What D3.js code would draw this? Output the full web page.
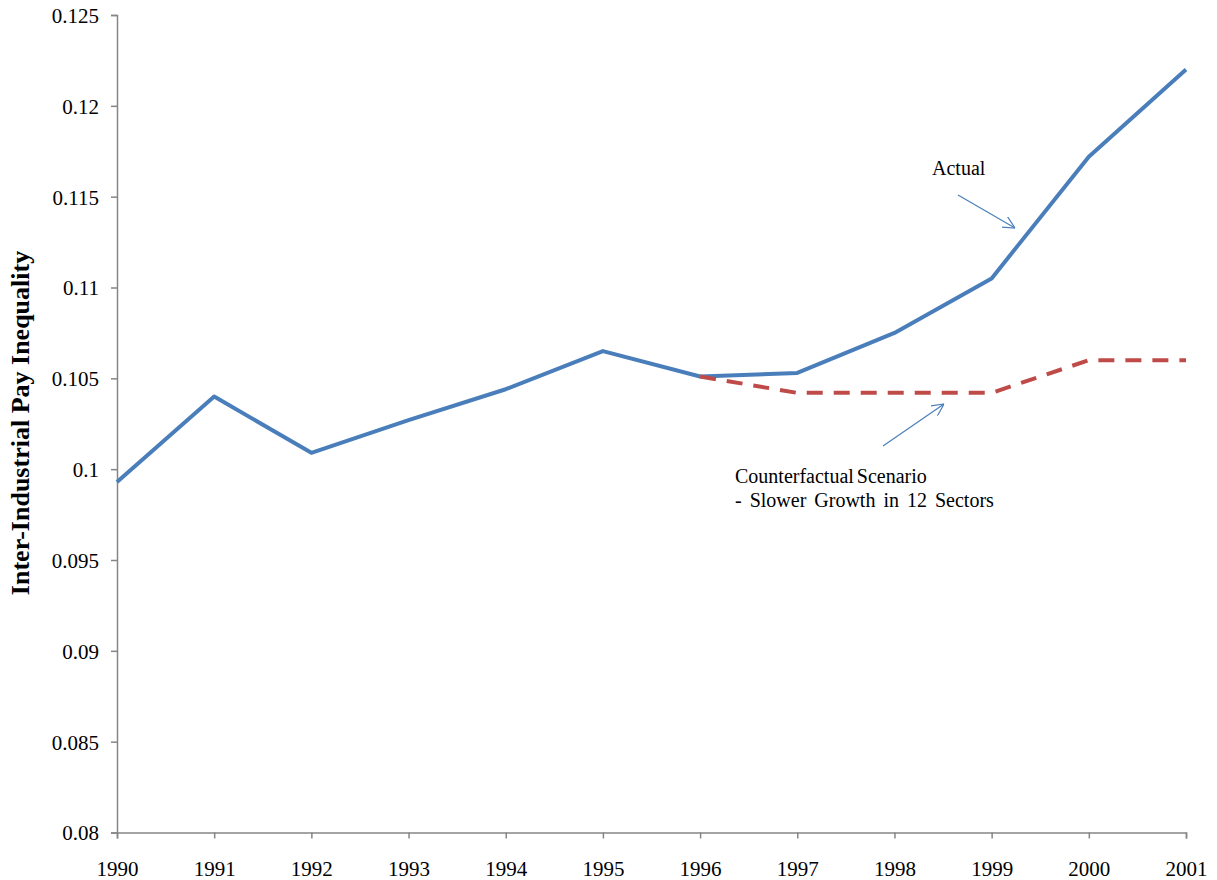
<!DOCTYPE html>
<html>
<head>
<meta charset="utf-8">
<script src="https://d3js.org/d3.v7.min.js"></script>
<style>
  body { margin: 0; background: #fff; }
</style>
</head>
<body>
<div id="chart"></div>
<script>
var years = [1990, 1991, 1992, 1993, 1994, 1995, 1996, 1997, 1998, 1999, 2000, 2001];
var actual = [0.0993, 0.1040, 0.1009, 0.1027, 0.1044, 0.1065, 0.1051, 0.1053, 0.1075, 0.1105, 0.1172, 0.1220];
var cfYears = [1996, 1997, 1998, 1999, 2000, 2001];
var counterfactual = [0.1051, 0.1042, 0.1042, 0.1042, 0.1060, 0.1060];
var yTicks = [0.08, 0.085, 0.09, 0.095, 0.1, 0.105, 0.11, 0.115, 0.12, 0.125];

var width = 1217,
  height = 880,
  serif = '"Liberation Serif", "Times New Roman", Times, serif';

var svg = d3.select('#chart')
  .append('svg')
  .attr('width', width)
  .attr('height', height)
  .style('font-family', serif);

var x = d3.scaleLinear()
  .domain([1990, 2001])
  .range([117, 1186]);

var y = d3.scaleLinear()
  .domain([0.08, 0.125])
  .range([832.5, 15]);

var axisColor = '#868686';

// y axis
var yAxis = svg.append('g')
  .attr('transform', 'translate(' + x(1990) + ',0)')
  .call(d3.axisLeft(y).tickValues(yTicks).tickSize(6).tickPadding(12)
    .tickFormat(function(d) { return String(+d.toFixed(3)); }));
yAxis.attr('font-family', null).attr('font-size', null);
yAxis.selectAll('path, line').attr('stroke', axisColor).attr('stroke-width', 1.5);
yAxis.selectAll('text')
  .style('font-family', serif)
  .style('font-size', '21px')
  .attr('fill', '#000')
  .attr('dy', '0.35em');

// x axis
var xAxis = svg.append('g')
  .attr('transform', 'translate(0,' + y(0.08) + ')')
  .call(d3.axisBottom(x).tickValues(years).tickSize(6).tickPadding(30)
    .tickFormat(d3.format('d')));
xAxis.attr('font-family', null).attr('font-size', null);
xAxis.selectAll('path, line').attr('stroke', axisColor).attr('stroke-width', 1.5);
xAxis.selectAll('text')
  .style('font-family', serif)
  .style('font-size', '21px')
  .attr('fill', '#000')
  .attr('dy', '0.35em');

// y axis title
svg.append('text')
  .attr('transform', 'translate(29,423) rotate(-90)')
  .attr('text-anchor', 'middle')
  .style('font-family', serif)
  .style('font-size', '26px')
  .style('font-weight', 'bold')
  .text('Inter-Industrial Pay Inequality');

var line = d3.line()
  .x(function(d) { return x(d[0]); })
  .y(function(d) { return y(d[1]); });

svg.append('path')
  .datum(d3.zip(years, actual))
  .attr('d', line)
  .attr('fill', 'none')
  .attr('stroke', '#4A7EBB')
  .attr('stroke-width', 4)
  .attr('stroke-linejoin', 'round');

svg.append('path')
  .datum(d3.zip(cfYears, counterfactual))
  .attr('d', line)
  .attr('fill', 'none')
  .attr('stroke', '#BE4B48')
  .attr('stroke-width', 4)
  .attr('stroke-dasharray', '16,11');

// annotation arrows
svg.append('defs').append('marker')
  .attr('id', 'arrow')
  .attr('viewBox', '0 0 10 10')
  .attr('refX', 10)
  .attr('refY', 5)
  .attr('markerWidth', 12)
  .attr('markerHeight', 12)
  .attr('markerUnits', 'userSpaceOnUse')
  .attr('orient', 'auto')
  .append('path')
  .attr('d', 'M0,0 L10,5 L0,10')
  .attr('fill', 'none')
  .attr('stroke', '#4A7EBB')
  .attr('stroke-width', 1);

svg.append('text')
  .attr('x', 932)
  .attr('y', 175)
  .style('font-family', serif)
  .style('font-size', '20px')
  .text('Actual');

svg.append('line')
  .attr('x1', 958).attr('y1', 195)
  .attr('x2', 1015).attr('y2', 228)
  .attr('stroke', '#4A7EBB')
  .attr('stroke-width', 1.2)
  .attr('marker-end', 'url(#arrow)');

svg.append('line')
  .attr('x1', 883).attr('y1', 446)
  .attr('x2', 944).attr('y2', 404)
  .attr('stroke', '#4A7EBB')
  .attr('stroke-width', 1.2)
  .attr('marker-end', 'url(#arrow)');

svg.append('text')
  .attr('x', 735)
  .attr('y', 483)
  .style('font-family', serif)
  .style('font-size', '20px')
  .style('word-spacing', '-2px')
  .text('Counterfactual Scenario');

svg.append('text')
  .attr('x', 735)
  .attr('y', 507)
  .style('font-family', serif)
  .style('font-size', '20px')
  .style('word-spacing', '3px')
  .text('- Slower Growth in 12 Sectors');
</script>
</body>
</html>
